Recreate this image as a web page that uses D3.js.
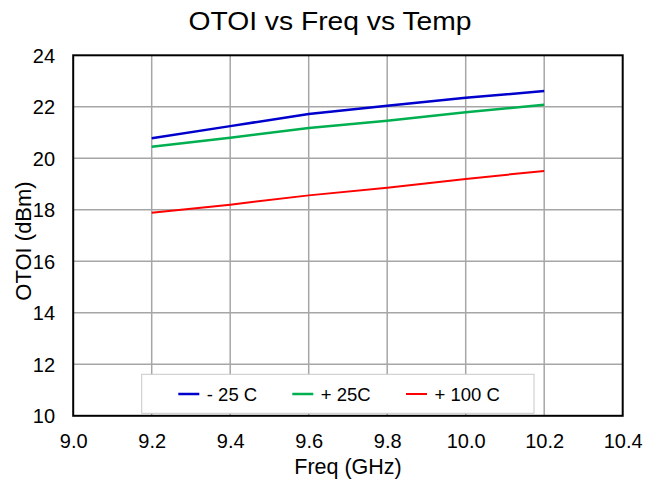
<!DOCTYPE html>
<html><head><meta charset="utf-8">
<script src="https://cdn.jsdelivr.net/npm/d3@7"></script>
<style>body{margin:0;background:#fff;}text{font-family:"Liberation Sans",Arial,sans-serif;fill:#000;}</style>
</head><body><svg id="c" width="646" height="482"></svg>
<script>
const freq = [9.2, 9.4, 9.6, 9.8, 10.0, 10.2];
const tempM25 = [20.78, 21.25, 21.72, 22.04, 22.35, 22.61];
const tempP25 = [20.45, 20.80, 21.18, 21.46, 21.79, 22.08];
const tempP100 = [17.89, 18.20, 18.56, 18.86, 19.20, 19.51];
const xTicks = [9.0, 9.2, 9.4, 9.6, 9.8, 10.0, 10.2, 10.4];
const yTicks = [10, 12, 14, 16, 18, 20, 22, 24];
const seriesNames = ["- 25 C", "+ 25C", "+ 100 C"];
const seriesColors = ["#0000CC", "#00B050", "#FF0000"];

const series = [tempM25, tempP25, tempP100];
const svg = d3.select("#c");
const L = 73.2, R = 622.7, T = 55.3, B = 415.8;
const x = d3.scaleLinear().domain([9.0, 10.4]).range([L, R]);
const y = d3.scaleLinear().domain([10, 24]).range([B, T]);
const FONT = '"Liberation Sans",Arial,sans-serif';

svg.append("text").attr("x", 330).attr("y", 29.5).attr("text-anchor", "middle")
  .attr("font-size", 25).attr("textLength", 283).attr("lengthAdjust", "spacingAndGlyphs")
  .text("OTOI vs Freq vs Temp");

// grid
const g = svg.append("g");
g.selectAll(".vg").data(xTicks.slice(1, -1)).enter().append("line")
  .attr("x1", d => x(d)).attr("x2", d => x(d)).attr("y1", T).attr("y2", B)
  .attr("stroke", "#a6a6a6").attr("stroke-width", 1.5);
g.selectAll(".hg").data(yTicks.slice(1, -1)).enter().append("line")
  .attr("x1", L).attr("x2", R).attr("y1", d => y(d)).attr("y2", d => y(d))
  .attr("stroke", "#a6a6a6").attr("stroke-width", 1.5);

// axes labels via d3 axes
const xAxis = svg.append("g").attr("transform", `translate(0,${B})`)
  .call(d3.axisBottom(x).tickValues(xTicks).tickFormat(d3.format(".1f")).tickSize(0));
const yAxis = svg.append("g").attr("transform", `translate(${L},0)`)
  .call(d3.axisLeft(y).tickValues(yTicks).tickFormat(d3.format("d")).tickSize(0));
[xAxis, yAxis].forEach(a => {
  a.select(".domain").remove();
  a.selectAll("text").attr("font-size", 20).attr("font-family", FONT).attr("fill", "#000");
});
xAxis.selectAll("text").attr("y", 448.5 - B).attr("dy", 0);
yAxis.selectAll("text").attr("x", -18.2).attr("y", 6.8).attr("dy", 0);

// lines
const line = d3.line().x((d, i) => x(freq[i])).y(d => y(d));
series.forEach((s, k) => {
  svg.append("path").attr("d", line(s)).attr("fill", "none")
    .attr("stroke", seriesColors[k]).attr("stroke-width", k === 2 ? 2 : 2.5);
});

// border
svg.append("rect").attr("x", L).attr("y", T).attr("width", R - L).attr("height", B - T)
  .attr("fill", "none").attr("stroke", "#000").attr("stroke-width", 2);

// legend
const lg = svg.append("g");
lg.append("rect").attr("x", 141.7).attr("y", 374.3).attr("width", 392.3).attr("height", 39)
  .attr("fill", "#fff").attr("stroke", "#c8c8c8").attr("stroke-width", 1);
const lx = [178.3, 292.3, 406];
seriesNames.forEach((n, k) => {
  lg.append("line").attr("x1", lx[k]).attr("x2", lx[k] + 21).attr("y1", 394).attr("y2", 394)
    .attr("stroke", seriesColors[k]).attr("stroke-width", k === 2 ? 2 : 2.5);
  lg.append("text").attr("x", lx[k] + 28.5).attr("y", 401).attr("font-size", 18.5).text(n);
});

svg.append("text").attr("x", 348).attr("y", 474).attr("text-anchor", "middle").attr("font-size", 21.5).text("Freq (GHz)");
svg.append("text").attr("transform", "translate(30.5,241) rotate(-90)").attr("text-anchor", "middle").attr("font-size", 22).text("OTOI (dBm)");
</script></body></html>
